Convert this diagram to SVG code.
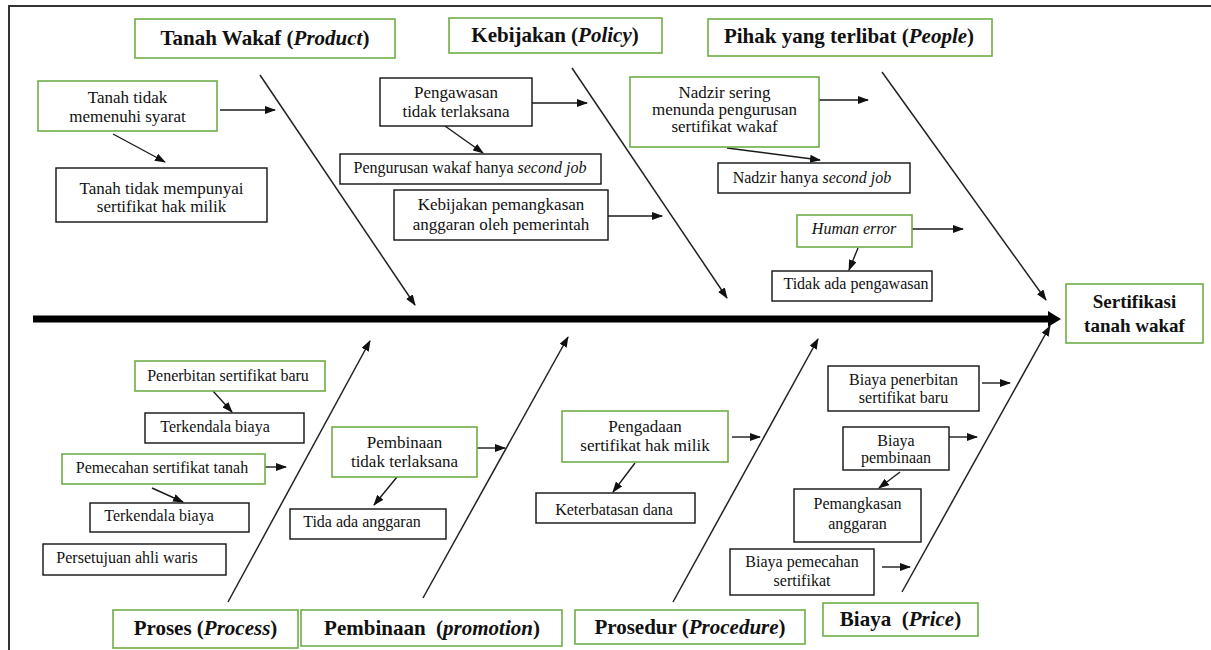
<svg xmlns="http://www.w3.org/2000/svg" width="1211" height="650" viewBox="0 0 1211 650">
<style>
.g{fill:#fff;stroke:#70ad47;stroke-width:1.6}
.b{fill:#fff;stroke:#111;stroke-width:1.4}
text{font-family:"Liberation Serif","Times New Roman",serif;fill:#111;text-anchor:middle}
.t{font-size:16px}
.t17{font-size:17px}
.h{font-size:21px;font-weight:bold}
.hs{font-size:19px;font-weight:bold}
.i{font-style:italic}
.c{stroke:#1a1a1a;stroke-width:1.4;fill:none;marker-end:url(#ah)}
.bone{stroke:#222;stroke-width:1.5;fill:none;marker-end:url(#ah)}
</style>
<defs>
<marker id="ah" markerWidth="11" markerHeight="8" refX="10" refY="4" orient="auto" markerUnits="userSpaceOnUse"><path d="M0,0 L11,4 L0,8 z" fill="#111"/></marker>
</defs>
<rect width="1211" height="650" fill="#fff"/>
<rect x="9" y="6" width="1230" height="670" fill="none" stroke="#333" stroke-width="2"/>

<g id="connectors">
<line x1="33" y1="319" x2="1050" y2="319" stroke="#000" stroke-width="7"/>
<polygon points="1048,311 1061,319 1048,327" fill="#000"/>
<line class="bone" x1="260" y1="75" x2="415" y2="305"/>
<line class="bone" x1="572" y1="68" x2="727" y2="298"/>
<line class="bone" x1="882" y1="72" x2="1046" y2="300"/>
<line class="bone" x1="228" y1="602" x2="370" y2="341"/>
<line class="bone" x1="423" y1="598" x2="568" y2="337"/>
<line class="bone" x1="673" y1="602" x2="818" y2="339"/>
<line class="bone" x1="902" y1="592" x2="1050" y2="326"/>
<line class="c" x1="220" y1="110" x2="275" y2="110"/>
<line class="c" x1="113" y1="134" x2="165" y2="162"/>
<line class="c" x1="532" y1="103" x2="587" y2="103"/>
<line class="c" x1="445" y1="126" x2="483" y2="153"/>
<line class="c" x1="608" y1="216" x2="662" y2="216"/>
<line class="c" x1="819" y1="100" x2="868" y2="100"/>
<line class="c" x1="727" y1="148" x2="820" y2="160"/>
<line class="c" x1="912" y1="229" x2="963" y2="229"/>
<line class="c" x1="858" y1="248" x2="849" y2="270"/>
<line class="c" x1="213" y1="391" x2="232" y2="412"/>
<line class="c" x1="265" y1="467" x2="286" y2="467"/>
<line class="c" x1="152" y1="488" x2="183" y2="502"/>
<line class="c" x1="477" y1="448" x2="505" y2="448"/>
<line class="c" x1="397" y1="477" x2="374" y2="505"/>
<line class="c" x1="732" y1="437" x2="760" y2="437"/>
<line class="c" x1="635" y1="463" x2="613" y2="492"/>
<line class="c" x1="982" y1="383" x2="1010" y2="383"/>
<line class="c" x1="949" y1="437" x2="977" y2="437"/>
<line class="c" x1="900" y1="472" x2="879" y2="488"/>
<line class="c" x1="882" y1="567" x2="910" y2="567"/>
</g>

<g id="product"><rect class="g" x="135" y="19" width="260" height="39"/><text class="h" x="265" y="45">Tanah Wakaf (<tspan class="i">Product</tspan>)</text></g>
<g id="policy"><rect class="g" x="449" y="18" width="213" height="35"/><text class="h" x="555" y="42">Kebijakan (<tspan class="i">Policy</tspan>)</text></g>
<g id="people"><rect class="g" x="708" y="19" width="284" height="37"/><text class="h" x="849" y="43">Pihak yang terlibat (<tspan class="i">People</tspan>)</text></g>

<g id="n-tanah-syarat"><rect class="g" x="38" y="81" width="179" height="50"/><text class="t17" x="127.5" y="103">Tanah tidak</text><text class="t17" x="127.5" y="122">memenuhi syarat</text></g>
<g id="n-tanah-sertifikat"><rect class="b" x="56" y="168" width="211" height="54"/><text class="t17" x="161.5" y="194">Tanah tidak mempunyai</text><text class="t17" x="161.5" y="212">sertifikat hak milik</text></g>
<g id="n-pengawasan"><rect class="b" x="380" y="78" width="152" height="48"/><text class="t17" x="456" y="98">Pengawasan</text><text class="t17" x="456" y="117">tidak terlaksana</text></g>
<g id="n-pengurusan"><rect class="b" x="340" y="154" width="261" height="30"/><text class="t" x="470" y="173">Pengurusan wakaf hanya <tspan class="i">second job</tspan></text></g>
<g id="n-kebijakan"><rect class="b" x="394" y="190" width="214" height="50"/><text class="t17" x="501" y="210">Kebijakan pemangkasan</text><text class="t17" x="501" y="230">anggaran oleh pemerintah</text></g>
<g id="n-nadzir-menunda"><rect class="g" x="630" y="77" width="189" height="70"/><text class="t17" x="724.5" y="98">Nadzir sering</text><text class="t17" x="724.5" y="115">menunda pengurusan</text><text class="t17" x="724.5" y="132">sertifikat wakaf</text></g>
<g id="n-nadzir-job"><rect class="b" x="718" y="163" width="192" height="30"/><text class="t" x="812" y="183">Nadzir hanya <tspan class="i">second job</tspan></text></g>
<g id="n-human"><rect class="g" x="797" y="215" width="115" height="32"/><text class="t i" x="854" y="234">Human error</text></g>
<g id="n-tidak-pengawasan"><rect class="b" x="772" y="271" width="160" height="30"/><text class="t" x="856" y="289">Tidak ada pengawasan</text></g>

<g id="result"><rect class="g" x="1066" y="284" width="137" height="59"/><text class="hs" x="1134.5" y="308">Sertifikasi</text><text class="hs" x="1134.5" y="332">tanah wakaf</text></g>

<g id="n-penerbitan"><rect class="g" x="135" y="361" width="190" height="30"/><text class="t" x="228" y="381">Penerbitan sertifikat baru</text></g>
<g id="n-terkendala1"><rect class="b" x="145" y="413" width="159" height="30"/><text class="t" x="215" y="432">Terkendala biaya</text></g>
<g id="n-pemecahan"><rect class="g" x="62" y="454" width="203" height="30"/><text class="t" x="162" y="473">Pemecahan sertifikat tanah</text></g>
<g id="n-terkendala2"><rect class="b" x="90" y="503" width="159" height="29"/><text class="t" x="159" y="521">Terkendala biaya</text></g>
<g id="n-persetujuan"><rect class="b" x="43" y="544" width="183" height="31"/><text class="t" x="127" y="563">Persetujuan ahli waris</text></g>
<g id="process"><rect class="g" x="113" y="610" width="185" height="38"/><text class="h" x="205.5" y="635">Proses (<tspan class="i">Process</tspan>)</text></g>

<g id="n-pembinaan"><rect class="g" x="332" y="427" width="145" height="50"/><text class="t17" x="404.5" y="448">Pembinaan</text><text class="t17" x="404.5" y="467">tidak terlaksana</text></g>
<g id="n-tida-anggaran"><rect class="b" x="290" y="509" width="156" height="30"/><text class="t" x="362" y="527">Tida ada anggaran</text></g>
<g id="promotion"><rect class="g" x="301" y="610" width="261" height="36"/><text class="h" x="432" y="635">Pembinaan&#160; (<tspan class="i">promotion</tspan>)</text></g>

<g id="n-pengadaan"><rect class="g" x="562" y="411" width="166" height="51"/><text class="t17" x="645" y="432">Pengadaan</text><text class="t17" x="645" y="451">sertifikat hak milik</text></g>
<g id="n-keterbatasan"><rect class="b" x="536" y="493" width="159" height="30"/><text class="t" x="614" y="515">Keterbatasan dana</text></g>
<g id="procedure"><rect class="g" x="575" y="610" width="230" height="34"/><text class="h" x="690" y="634">Prosedur (<tspan class="i">Procedure</tspan>)</text></g>

<g id="n-biaya-penerbitan"><rect class="b" x="828" y="366" width="151" height="45"/><text class="t" x="903.5" y="385">Biaya penerbitan</text><text class="t" x="903.5" y="403">sertifikat baru</text></g>
<g id="n-biaya-pembinaan"><rect class="b" x="843" y="427" width="106" height="43"/><text class="t" x="896" y="446">Biaya</text><text class="t" x="896" y="463">pembinaan</text></g>
<g id="n-pemangkasan"><rect class="b" x="794" y="489" width="127" height="53"/><text class="t" x="857.5" y="509">Pemangkasan</text><text class="t" x="857.5" y="529">anggaran</text></g>
<g id="n-biaya-pemecahan"><rect class="b" x="730" y="549" width="144" height="46"/><text class="t" x="802" y="567">Biaya pemecahan</text><text class="t" x="802" y="586">sertifikat</text></g>
<g id="price"><rect class="g" x="823" y="603" width="155" height="33"/><text class="h" x="900.5" y="626">Biaya&#160; (<tspan class="i">Price</tspan>)</text></g>
</svg>
